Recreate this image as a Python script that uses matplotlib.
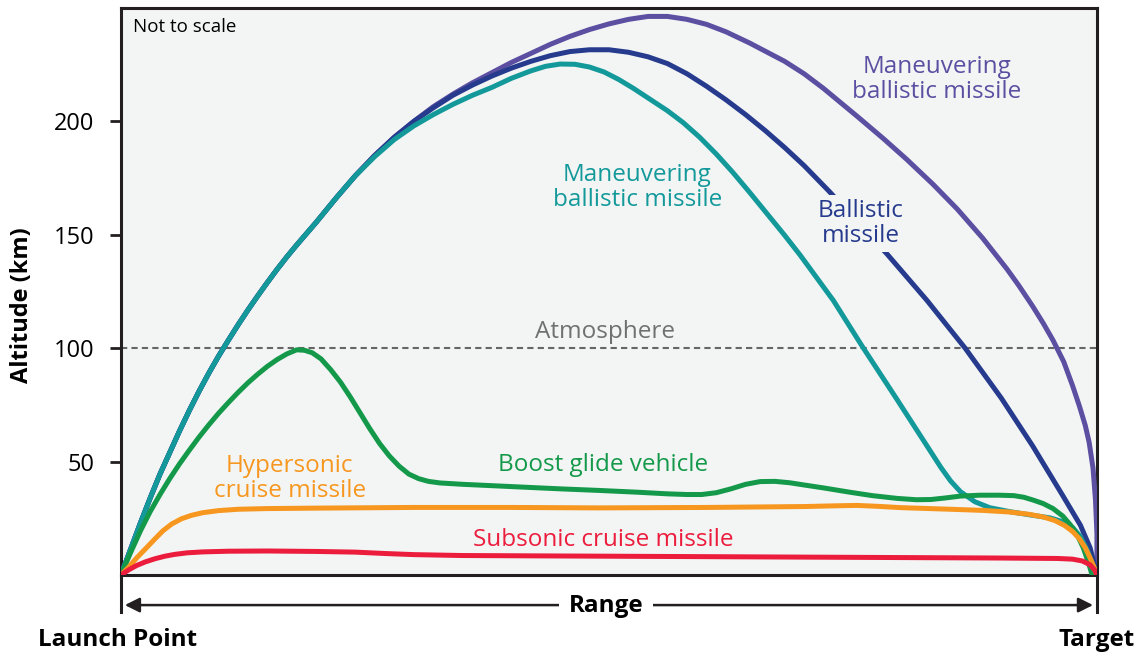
import matplotlib
matplotlib.use("Agg")
from matplotlib import pyplot as plt

plt.rcParams['font.family'] = ['Open Sans', 'DejaVu Sans']

# range in % of distance to target, altitude in km (not to scale)
# the three ballistic paths share the same boost phase
boost_x = [0, 1, 2, 3, 4, 5, 6, 7, 8, 9, 10, 11, 12, 13, 14, 15, 16, 17, 18, 19, 20, 22, 24, 26]
boost_y = [0, 11.5, 23, 34, 44.5, 54, 63.5, 72.5, 81, 89, 96.5, 103.5, 110.3, 116.8, 123, 129,
           134.8, 140.3, 145.5, 150.5, 155.5, 166, 176, 185]

mbm_x = boost_x + [28, 30, 32, 34, 36, 38, 40, 42, 44, 46, 48, 50, 52, 54, 56, 58, 60, 62, 64.4, 66,
                   68, 70, 72, 73.4, 75.5, 78.1, 80.5, 83.2, 85.7, 88.3, 90.8, 92, 93.4, 94.5, 95.5,
                   96.6, 97.5, 98.2, 98.8, 99.2, 99.6, 99.85, 100, 100]
mbm_y = boost_y + [193, 200, 206.5, 212, 217, 221.5, 226, 230, 234, 237.5, 240.5, 243, 245, 246.3,
                   246.3, 245, 242.8, 239.5, 234.6, 231, 226.5, 221, 214.5, 209.5, 202, 192.5, 183.3,
                   172.3, 161.3, 148.5, 134.8, 127.6, 118.6, 111, 103.5, 94, 83.5, 74.5, 66, 58.5, 47,
                   33, 18, 0]

bal_x = boost_x + [28, 30, 32, 34, 36, 38, 40, 42, 44, 46, 48, 50, 52, 54, 56, 58, 60, 62, 64, 66, 68,
                   70, 72.6, 75.5, 78.5, 82.6, 86.5, 90.2, 93.4, 96.5, 98.3, 99.3, 100]
bal_y = boost_y + [193, 200, 206, 211.5, 216, 220, 223.5, 226.5, 229, 230.8, 231.6, 231.6, 230.5,
                   228.5, 225.5, 221, 215.5, 209.5, 203, 196, 188.5, 180.5, 169, 155.5, 141.5, 121,
                   100, 78, 57, 35, 22, 12, 0]

man_x = boost_x + [28, 30, 32, 34, 36, 38, 40, 42, 43.5, 45, 46.5, 48, 49.5, 51, 52.5, 54.2, 56, 57.6,
                   59.3, 61, 62.7, 64.4, 66.2, 68, 69.6, 73, 76, 79.5, 82.2, 84, 85, 86, 87.5, 89,
                   91, 93, 95.2, 96.5, 97.5, 98.3, 99, 99.6, 100]
man_y = boost_y[:-1] + [184.5] + [192, 198, 203, 207.5, 211.5, 215, 219, 222.3, 224.3, 225.3, 225.2,
                                  224, 221.8, 218.5, 214.6, 209.8, 204.7, 199.5, 193, 185.6, 177.5,
                                  168.8, 159.3, 149.8, 141, 121, 100.5, 77.5, 59.5, 47.5, 41.5,
                                  36.8, 32.3, 29.7, 28, 26.6, 25.2, 23.5, 21, 17, 11, 4, 0]

bgv_x = [0, 1, 2, 3, 4, 5, 6, 7, 8, 9, 10, 11, 12, 13, 14, 15, 16, 17, 18, 18.8, 19.6, 20.5, 21.5,
         22.5, 23.5, 24.5, 25.5, 26.5, 27.5, 28.5, 29.5, 30.5, 31.5, 32.7, 35, 40, 45, 49, 53, 56, 58,
         59.5, 61, 62.5, 64, 65.5, 67, 68.5, 70, 72, 74.7, 77, 79.5, 81.5, 83, 84.5, 86, 88, 90, 91.5,
         92.5, 93.5, 94.5, 95.5, 96.5, 97.3, 98, 98.6, 99, 99.3, 99.5]
bgv_y = [0, 10, 19.5, 28, 35.5, 42.5, 49, 55, 60.8, 66.2, 71.3, 76, 80.5, 84.7, 88.5, 92, 95, 97.5,
         99.3, 99.1, 98, 95.3, 90.5, 85, 78.5, 71.5, 64.5, 58, 52.5, 48, 44.5, 42.5, 41.3, 40.6, 40,
         39, 38, 37.3, 36.5, 35.8, 35.5, 35.5, 36.3, 38, 40, 41.2, 41.3, 40.7, 39.7, 38.4, 36.5, 35,
         33.8, 33.2, 33.3, 34, 34.8, 35.2, 35.2, 35, 34.3, 33, 31.5, 29.3, 26, 22, 17.5, 12, 7, 3, 0]

hcm_x = [0, 0.8, 1.6, 2.5, 3.5, 4.3, 5.2, 6.2, 7.2, 8.4, 10, 12, 15, 20, 30, 40, 49, 60, 70, 73,
         75.4, 77.5, 80, 85, 88.3, 91, 93, 94.5, 95.7, 96.7, 97.5, 98.2, 98.8, 99.3, 99.7, 100]
hcm_y = [0, 3.5, 7.5, 11.5, 16, 19.5, 22.5, 24.8, 26.3, 27.5, 28.4, 29, 29.3, 29.5, 29.8, 29.8, 29.6,
         29.8, 30.2, 30.5, 30.7, 30.3, 29.7, 29, 28.5, 27.8, 26.8, 25.6, 24, 21.8, 19.2, 16, 12, 7.5,
         3.5, 0]

scm_x = [0, 0.8, 1.6, 2.5, 3.5, 4.5, 5.5, 6.8, 8.4, 11, 15, 20, 24, 27, 30, 35, 50, 75, 90, 96, 97.5,
         98.5, 99.3, 99.8, 100]
scm_y = [0, 2.3, 4.2, 5.8, 7.2, 8.3, 9.1, 9.8, 10.2, 10.5, 10.6, 10.4, 10.1, 9.5, 9, 8.6, 8.3, 7.8,
         7.5, 7.3, 7, 6.2, 4.5, 2, 0]

yticks = [50, 100, 150, 200]
atmosphere = 100

c_purple = "#5c4fa2"
c_blue = "#263b8d"
c_teal = "#14999a"
c_green = "#14994a"
c_orange = "#f7971f"
c_red = "#ec1c3c"
bg = "#f3f5f5"
ink = "#231f20"

fig = plt.figure(figsize=(11.41, 6.53), dpi=100)
ax = fig.add_axes([0.106, 0.1194, 0.8554, 0.8683])
ax.set_facecolor(bg)

lw = 3.6
style = dict(lw=lw, solid_capstyle='round', solid_joinstyle='round')
ax.plot(mbm_x, mbm_y, color=c_purple, zorder=3, **style)
ax.plot(bal_x, bal_y, color=c_blue, zorder=3.1, **style)
ax.plot(man_x, man_y, color=c_teal, zorder=3.2, **style)
ax.plot(bgv_x, bgv_y, color=c_green, zorder=3.3, **style)
ax.plot(hcm_x, hcm_y, color=c_orange, zorder=3.4, **style)
ax.plot(scm_x, scm_y, color=c_red, zorder=3.5, **style)

ax.axhline(atmosphere, color="#666666", lw=1.5, ls=(0, (3, 2)), zorder=2)

ax.set_xlim(0, 100)
ax.set_ylim(0, 250)
ax.set_xticks([])
ax.set_yticks(yticks)
ax.tick_params(axis='y', direction='out', length=8, width=2, color=ink,
               labelsize=17, labelcolor="black", pad=11)
for s in ax.spines.values():
    s.set_color(ink)
    s.set_linewidth(2.2)

# spines run down past the axes to the range arrow
for xx in (0, 1):
    ax.plot([xx, xx], [0, -0.066], transform=ax.transAxes, color=ink, lw=2.2, clip_on=False)

ax.annotate("", xy=(0.004, -0.053), xytext=(0.996, -0.053), xycoords='axes fraction',
            arrowprops=dict(arrowstyle='<|-|>', color=ink, lw=1.8, mutation_scale=22,
                            shrinkA=0, shrinkB=0))
ax.text(0.497, -0.055, "Range", transform=ax.transAxes, ha='center', va='center',
        fontsize=17.5, fontweight='bold', color='black',
        bbox=dict(facecolor='white', edgecolor='none', pad=7))

fig.text(118 / 1141, 1 - 640 / 653, "Launch Point", ha='center', va='center',
         fontsize=17.5, fontweight='bold')
fig.text(1097 / 1141, 1 - 640 / 653, "Target", ha='center', va='center',
         fontsize=17.5, fontweight='bold')
fig.text(22 / 1141, 1 - 305 / 653, "Altitude (km)", ha='center', va='center',
         rotation=90, fontsize=17, fontweight='bold')

ax.text(1.2, 241.5, "Not to scale", fontsize=13.5, ha='left', va='center')

lab = dict(fontsize=17.5, ha='center', va='center', linespacing=1.05, zorder=5)
ax.text(83.6, 218.5, "Maneuvering\nballistic missile", color=c_purple, **lab)
ax.text(52.9, 171, "Maneuvering\nballistic missile", color=c_teal, **lab)
ax.text(75.8, 155, "Ballistic\nmissile", color=c_blue,
        bbox=dict(facecolor=bg, edgecolor='none', pad=3), **lab)
ax.text(49.6, 107, "Atmosphere", color="#707070", **lab)
ax.text(49.4, 48.5, "Boost glide vehicle", color=c_green, **lab)
ax.text(17.3, 42.5, "Hypersonic\ncruise missile", color=c_orange, **lab)
ax.text(49.4, 15.5, "Subsonic cruise missile", color=c_red, **lab)

fig.savefig("out.png", dpi=100)
